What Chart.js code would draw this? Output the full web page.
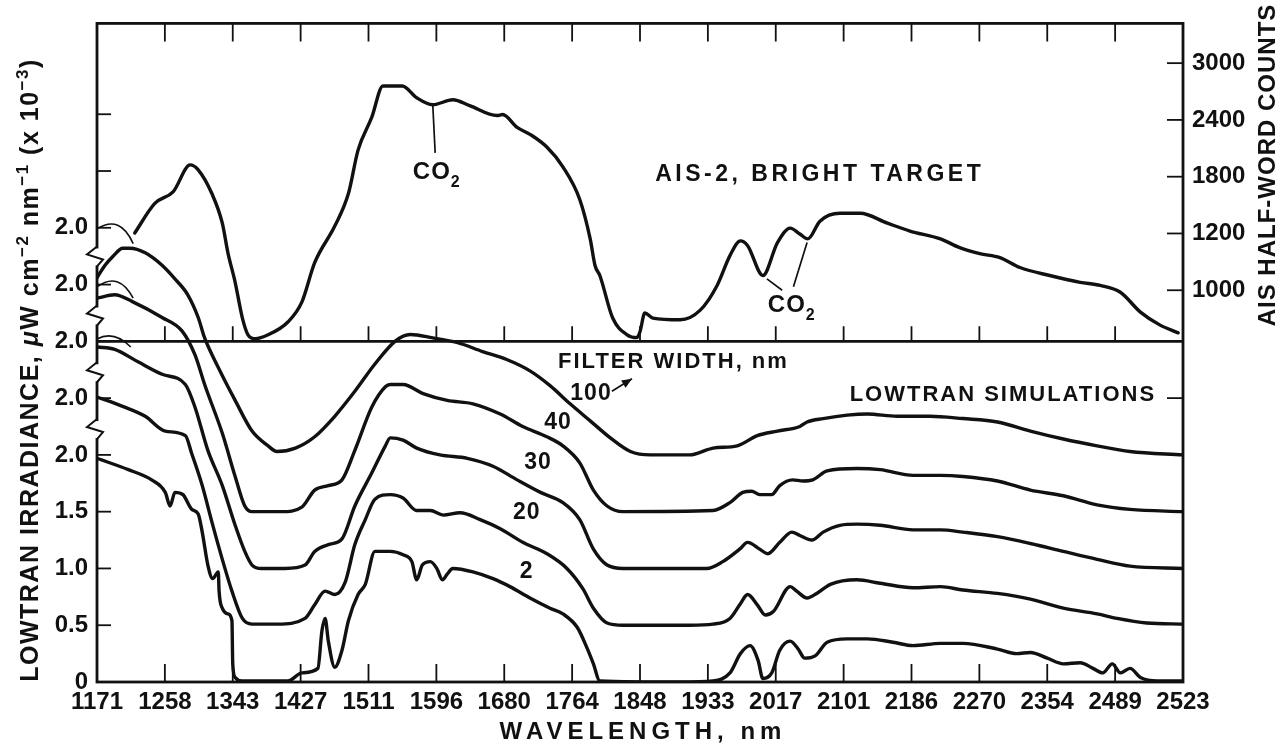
<!DOCTYPE html>
<html><head><meta charset="utf-8">
<script src="https://cdn.jsdelivr.net/npm/chart.js@4.4.1/dist/chart.umd.min.js"></script>
<style>html,body{margin:0;padding:0;background:#fff;}canvas{display:block;}</style>
</head><body>
<canvas id="c" width="1281" height="747" style="width:1281px;height:747px"></canvas>
<script>
// ---------- tick labels ----------
const xTickLabels = ['1171','1258','1343','1427','1511','1596','1680','1764','1848','1933','2017','2101','2186','2270','2354','2489','2523'];
const leftTickValues = [0, 0.5, 1.0, 1.5, 2.0, 2.5, 3.0, 3.5, 4.0];
const leftTickLabels = ['0', '0.5', '1.0', '1.5', '2.0', '2.0', '2.0', '2.0', '2.0'];
const aisTickCounts = [1000, 1200, 1800, 2400, 3000];
const aisTickPos = [3.45, 3.95, 4.45, 4.95, 5.45];

// ---------- AIS-2 bright target (half-word counts) ----------
const aisWavelength = [1218,1243,1266,1287,1297,1314,1327,1334,1343,1352,1359,1368,1384,1409,1426,1442,1467,1484,1496,1513,1527,1551,1569,1589,1614,1635,1669,1676,1694,1710,1731,1751,1772,1785,1791,1797,1813,1831,1843,1847,1853,1863,1897,1922,1943,1959,1972,1981,2000,2018,2034,2046,2056,2071,2096,2121,2155,2183,2221,2245,2270,2295,2320,2357,2395,2420,2445,2470,2494,2517];
const aisCounts = [1205,1518,1643,1925,1873,1622,1309,1132,1028,902,843,829,843,889,958,1097,1278,1622,2081,2426,2759,2759,2634,2561,2613,2551,2446,2457,2321,2248,2113,1904,1559,1181,1087,1052,902,843,833,854,920,902,896,930,1017,1122,1174,1157,1052,1167,1257,1198,1181,1330,1413,1413,1309,1226,1181,1150,1129,1115,1080,1052,1028,1017,993,923,878,850];

// ---------- LOWTRAN simulations (irradiance, x10^-3 uW cm^-2 nm^-1) ----------
const filterWidths = [2, 20, 30, 40, 100];
const curveOffsets = [0, 0.5, 1.0, 1.5, 2.0];

const wl2 = [1171,1210,1239,1256,1262,1268,1278,1289,1297,1302,1309,1315,1322,1323,1327,1334,1339,1340,1343,1352,1409,1426,1446,1451,1455,1459,1467,1476,1484,1496,1505,1517,1536,1552,1563,1569,1576,1586,1594,1601,1607,1614,1639,1664,1685,1710,1735,1751,1769,1781,1789,1797,1897,1938,1959,1972,1984,1994,2000,2011,2021,2034,2044,2052,2065,2080,2105,2130,2162,2187,2221,2249,2292,2316,2333,2354,2374,2395,2411,2423,2435,2445,2457,2470,2491,2523];
const irr2 = [1.97,1.87,1.78,1.67,1.55,1.67,1.65,1.52,1.48,1.32,1.03,0.91,0.97,0.80,0.65,0.60,0.54,0.16,0.04,0.01,0.01,0.08,0.12,0.45,0.56,0.36,0.13,0.28,0.54,0.77,0.86,1.15,1.15,1.12,1.06,0.90,1.03,1.06,1.00,0.90,0.95,1.00,0.97,0.91,0.84,0.74,0.65,0.60,0.48,0.30,0.16,0.01,0,0.01,0.08,0.25,0.32,0.19,0.03,0.08,0.28,0.36,0.29,0.21,0.23,0.35,0.38,0.38,0.35,0.32,0.34,0.34,0.29,0.25,0.26,0.21,0.16,0.17,0.12,0.08,0.16,0.08,0.12,0.04,0.01,0.01];

const wl20 = [1171,1202,1231,1256,1281,1289,1302,1314,1327,1339,1352,1364,1396,1430,1442,1455,1467,1480,1492,1505,1517,1536,1552,1569,1586,1602,1623,1648,1673,1701,1731,1756,1776,1789,1806,1826,1909,1938,1959,1972,1981,1993,2003,2013,2034,2042,2055,2067,2084,2117,2146,2187,2221,2249,2292,2333,2374,2416,2441,2478,2523];
const irr20 = [2.01,1.93,1.84,1.71,1.67,1.51,1.23,0.91,0.58,0.30,0.06,0.01,0.01,0.06,0.18,0.30,0.27,0.38,0.71,0.93,1.11,1.15,1.12,1.01,1.01,0.97,0.99,0.93,0.85,0.73,0.63,0.50,0.32,0.15,0.02,0,0,0.01,0.06,0.19,0.27,0.18,0.09,0.12,0.34,0.30,0.24,0.28,0.36,0.40,0.37,0.33,0.34,0.31,0.28,0.23,0.15,0.10,0.06,0.02,0.01];

const wl30 = [1171,1193,1222,1252,1281,1293,1309,1327,1343,1355,1364,1376,1405,1430,1442,1459,1476,1492,1513,1530,1536,1552,1569,1598,1632,1664,1694,1723,1751,1772,1789,1806,1826,1930,1950,1971,1981,1996,2006,2021,2036,2046,2061,2075,2096,2117,2146,2187,2221,2249,2292,2333,2374,2416,2457,2523];
const irr30 = [1.95,1.93,1.82,1.71,1.62,1.42,1.04,0.73,0.38,0.15,0.03,0,0,0.03,0.15,0.21,0.26,0.55,0.84,1.08,1.15,1.13,1.06,1.00,0.97,0.90,0.78,0.67,0.58,0.43,0.17,0.03,0,0,0.06,0.17,0.23,0.17,0.13,0.23,0.32,0.29,0.25,0.32,0.38,0.39,0.38,0.34,0.34,0.32,0.28,0.22,0.15,0.08,0.02,0];

const wl40 = [1171,1193,1215,1252,1277,1293,1305,1327,1343,1355,1364,1401,1426,1442,1459,1476,1492,1513,1530,1536,1552,1577,1607,1639,1673,1701,1731,1751,1772,1789,1806,1826,1938,1959,1975,1986,1996,2011,2021,2037,2050,2062,2080,2117,2146,2187,2221,2249,2292,2333,2374,2416,2457,2523];
const irr40 = [1.88,1.91,1.85,1.71,1.59,1.38,1.12,0.69,0.31,0.05,0,0,0.04,0.19,0.23,0.28,0.54,0.92,1.10,1.12,1.12,1.04,0.98,0.95,0.86,0.75,0.66,0.58,0.43,0.19,0.05,0,0.01,0.08,0.17,0.18,0.15,0.15,0.23,0.28,0.27,0.28,0.36,0.38,0.37,0.32,0.32,0.31,0.27,0.19,0.14,0.06,0.02,0];

const wl100 = [1171,1181,1191,1203,1212,1231,1252,1268,1284,1297,1305,1322,1343,1364,1384,1395,1418,1442,1467,1492,1517,1542,1561,1589,1619,1651,1681,1710,1735,1760,1785,1810,1835,1860,1909,1938,1968,1993,2018,2046,2055,2075,2105,2130,2167,2208,2249,2292,2333,2374,2416,2457,2523];
const irr100 = [1.56,1.67,1.75,1.82,1.82,1.78,1.67,1.55,1.41,1.21,1.03,0.77,0.48,0.21,0.08,0.03,0.06,0.16,0.34,0.56,0.80,1.00,1.06,1.03,0.99,0.91,0.84,0.74,0.61,0.45,0.30,0.15,0.03,0,0,0.06,0.08,0.17,0.21,0.25,0.29,0.32,0.35,0.36,0.34,0.34,0.32,0.29,0.21,0.14,0.08,0.03,0];

const lowtranWl = [wl2, wl20, wl30, wl40, wl100];
const lowtranIrr = [irr2, irr20, irr30, irr40, irr100];

// ---------- layout constants ----------
const FONT = '"Liberation Sans", Arial, Helvetica, sans-serif';
const INK = '#111111';
const xMin = 1171, xMax = 2523, yMax = 5.8;
const panelSplit = 3.0;
const breakMarks = [2.21, 2.71, 3.21, 3.73];
const leftInnerTicks = [0.5, 1.0, 1.5, 2.0, 2.5, 3.0, 3.5, 4.0, 4.5, 5.0];
// hand-drawn brackets joining the "2.0" labels to curve starts: [from, control, to] in (nm, plot units)
const labelLoops = [
  [[1171, 3.99], [1200, 4.12], [1216, 3.86]],
  [[1171, 3.48], [1198, 3.62], [1216, 3.38]],
  [[1171, 3.02], [1192, 3.10], [1213, 2.95]]
];

function countsToPos(c) {
  const T = aisTickCounts, P = aisTickPos;
  let i = T.length - 2;
  if (c <= T[1]) i = 0;
  else for (let k = 0; k < T.length - 1; k++) { if (c <= T[k + 1]) { i = k; break; } }
  return P[i] + (c - T[i]) * (P[i + 1] - P[i]) / (T[i + 1] - T[i]);
}

const datasets = [{
  label: 'AIS-2, BRIGHT TARGET',
  yAxisID: 'y2',
  data: aisWavelength.map((w, i) => ({ x: w, y: countsToPos(aisCounts[i]) }))
}];
lowtranWl.forEach((wl, k) => {
  datasets.push({
    label: 'LOWTRAN ' + filterWidths[k] + ' nm',
    yAxisID: 'y',
    data: wl.map((w, i) => ({ x: w, y: lowtranIrr[k][i] + curveOffsets[k] }))
  });
});

function partFont(p, size) {
  const s = p.sup || p.sub ? Math.round(size * 0.68) : size;
  return (p.italic ? 'italic ' : '') + 'bold ' + s + 'px ' + FONT;
}
function richWidth(ctx, parts, size) {
  let w = 0;
  parts.forEach(p => { ctx.font = partFont(p, size); w += ctx.measureText(p.t).width; });
  return w;
}
function drawRich(ctx, x, y, parts, size, align) {
  const w = richWidth(ctx, parts, size);
  let cx = align === 'center' ? x - w / 2 : (align === 'right' ? x - w : x);
  ctx.textAlign = 'left';
  ctx.textBaseline = 'alphabetic';
  parts.forEach(p => {
    ctx.font = partFont(p, size);
    const dy = p.sup ? -size * 0.42 : (p.sub ? size * 0.32 : 0);
    ctx.fillText(p.t, cx, y + dy);
    cx += ctx.measureText(p.t).width;
  });
}

const decor = {
  id: 'decor',
  beforeDraw(chart) {
    const c = chart.ctx;
    c.save(); c.fillStyle = '#fff'; c.fillRect(0, 0, chart.width, chart.height); c.restore();
  },
  afterDraw(chart) {
    const c = chart.ctx, a = chart.chartArea;
    const X = v => chart.scales.x.getPixelForValue(v);
    const Y = v => chart.scales.y.getPixelForValue(v);
    c.save();
    c.strokeStyle = INK; c.fillStyle = INK; c.lineCap = 'butt';
    // frame
    c.lineWidth = 2.8;
    c.strokeRect(a.left, a.top, a.right - a.left, a.bottom - a.top);
    const ys = Y(panelSplit);
    c.beginPath(); c.moveTo(a.left, ys); c.lineTo(a.right, ys); c.stroke();
    // x ticks
    c.lineWidth = 1.8;
    chart.scales.x.ticks.forEach((t, i) => {
      if (i === 0 || i === chart.scales.x.ticks.length - 1) return;
      const x = X(t.value);
      c.beginPath();
      c.moveTo(x, a.top); c.lineTo(x, a.top + 18);
      c.moveTo(x, a.bottom); c.lineTo(x, a.bottom - 18);
      c.moveTo(x, ys); c.lineTo(x, ys - 15);
      c.stroke();
    });
    // left ticks
    leftInnerTicks.forEach(v => {
      c.beginPath(); c.moveTo(a.left, Y(v)); c.lineTo(a.left + 14, Y(v)); c.stroke();
    });
    // right ticks
    aisTickPos.concat([2.5]).forEach(v => {
      c.beginPath(); c.moveTo(a.right, Y(v)); c.lineTo(a.right - 16, Y(v)); c.stroke();
    });
    // axis break marks
    c.lineWidth = 2;
    breakMarks.forEach(v => {
      const y = Y(v), L = a.left;
      c.save(); c.fillStyle = '#fff'; c.fillRect(L - 2, y - 10, 4, 17); c.restore();
      c.beginPath();
      c.moveTo(L, y - 12); c.lineTo(L - 10, y - 4); c.lineTo(L + 6, y + 1); c.lineTo(L, y + 8);
      c.stroke();
    });
    // label loops
    c.lineWidth = 1.6;
    labelLoops.forEach(([p0, p1, p2]) => {
      c.beginPath();
      c.moveTo(X(p0[0]), Y(p0[1]));
      c.quadraticCurveTo(X(p1[0]), Y(p1[1]), X(p2[0]), Y(p2[1]));
      c.stroke();
    });
    // annotations
    c.lineWidth = 1.7;
    const dipW = 1589;
    const dipIdx = aisWavelength.indexOf(dipW);
    c.beginPath(); c.moveTo(X(dipW), Y(countsToPos(aisCounts[dipIdx]))); c.lineTo(X(1592), Y(4.66)); c.stroke();
    c.letterSpacing = '1px';
    drawRich(c, X(1594), Y(4.43), [{t: 'CO'}, {t: '2', sub: true}], 24, 'center');
    c.beginPath(); c.moveTo(X(2005), Y(3.55)); c.lineTo(X(2024), Y(3.45));
    c.moveTo(X(2055), Y(3.87)); c.lineTo(X(2038), Y(3.48)); c.stroke();
    drawRich(c, X(2036), Y(3.26), [{t: 'CO'}, {t: '2', sub: true}], 24, 'center');
    // text labels
    c.textBaseline = 'middle';
    c.textAlign = 'left';
    c.font = 'bold 23px ' + FONT;
    c.letterSpacing = '3.5px';
    c.fillText('AIS-2, BRIGHT TARGET', X(1866), Y(4.47));
    c.font = 'bold 22px ' + FONT;
    c.letterSpacing = '2px';
    c.fillText('FILTER WIDTH, nm', X(1745), Y(2.82));
    c.fillText('LOWTRAN SIMULATIONS', X(2108), Y(2.53));
    c.letterSpacing = '1px';
    c.font = 'bold 23px ' + FONT;
    c.textAlign = 'center';
    c.fillText('100', X(1786), Y(2.54));
    c.fillText('40', X(1745), Y(2.28));
    c.fillText('30', X(1720), Y(1.93));
    c.fillText('20', X(1706), Y(1.49));
    c.fillText('2', X(1706), Y(0.97));
    // arrow for 100
    const ax0 = X(1812), ay0 = Y(2.56), ax1 = X(1837), ay1 = Y(2.67);
    c.beginPath(); c.moveTo(ax0, ay0); c.lineTo(ax1, ay1); c.stroke();
    const ang = Math.atan2(ay1 - ay0, ax1 - ax0);
    c.beginPath();
    c.moveTo(ax1, ay1);
    c.lineTo(ax1 - 11 * Math.cos(ang - 0.4), ay1 - 11 * Math.sin(ang - 0.4));
    c.lineTo(ax1 - 11 * Math.cos(ang + 0.4), ay1 - 11 * Math.sin(ang + 0.4));
    c.closePath(); c.fill();
    // x title
    c.letterSpacing = '5px';
    c.font = 'bold 24px ' + FONT;
    c.textAlign = 'center'; c.textBaseline = 'middle';
    c.fillText('WAVELENGTH, nm', (a.left + a.right) / 2 + 3, 732);
    // right title
    c.save();
    c.translate(1268, 165); c.rotate(-Math.PI / 2);
    c.letterSpacing = '1px';
    c.font = 'bold 24px ' + FONT;
    c.fillText('AIS HALF-WORD COUNTS', 0, 0);
    c.restore();
    // left title
    c.save();
    c.translate(38, 370); c.rotate(-Math.PI / 2);
    c.letterSpacing = '1.5px';
    drawRich(c, 0, 0, [
      {t: 'LOWTRAN IRRADIANCE, '}, {t: '\u03bc', italic: true}, {t: 'W cm'}, {t: '\u22122', sup: true},
      {t: ' nm'}, {t: '\u22121', sup: true}, {t: ' (x 10'}, {t: '\u22123', sup: true}, {t: ')'}
    ], 25, 'center');
    c.restore();
    c.restore();
  }
};

const tickFont = { family: FONT, size: 24, weight: 'bold' };
new Chart(document.getElementById('c'), {
  type: 'line',
  data: { datasets },
  options: {
    responsive: false, animation: false, devicePixelRatio: 1,
    layout: { padding: { top: 15, left: 0, right: 0, bottom: 0 } },
    plugins: { legend: { display: false }, tooltip: { enabled: false } },
    elements: {
      point: { radius: 0 },
      line: { borderWidth: 3.4, borderColor: INK, cubicInterpolationMode: 'monotone', borderJoinStyle: 'round', borderCapStyle: 'round', fill: false }
    },
    scales: {
      x: {
        type: 'linear', min: xMin, max: xMax,
        grid: { display: false, drawTicks: false }, border: { display: false },
        afterBuildTicks: s => { s.ticks = xTickLabels.map((l, i) => ({ value: xMin + i * (xMax - xMin) / (xTickLabels.length - 1) })); },
        afterFit: s => { s.height = 65; },
        ticks: { autoSkip: false, maxRotation: 0, minRotation: 0, padding: 6, color: INK, font: tickFont, callback: (v, i) => xTickLabels[i] }
      },
      y: {
        type: 'linear', position: 'left', min: 0, max: yMax,
        grid: { display: false, drawTicks: false }, border: { display: false },
        afterBuildTicks: s => { s.ticks = leftTickValues.map(v => ({ value: v })); },
        afterFit: s => { s.width = 97; },
        ticks: { autoSkip: false, padding: 9, color: INK, font: tickFont, callback: (v, i) => leftTickLabels[i] }
      },
      y2: {
        type: 'linear', position: 'right', min: 0, max: yMax,
        grid: { display: false, drawTicks: false }, border: { display: false },
        afterBuildTicks: s => { s.ticks = aisTickPos.map(v => ({ value: v })); },
        afterFit: s => { s.width = 98; },
        ticks: { autoSkip: false, padding: 9, color: INK, font: tickFont, callback: (v, i) => String(aisTickCounts[i]) }
      }
    }
  },
  plugins: [decor]
});
</script>
</body></html>
